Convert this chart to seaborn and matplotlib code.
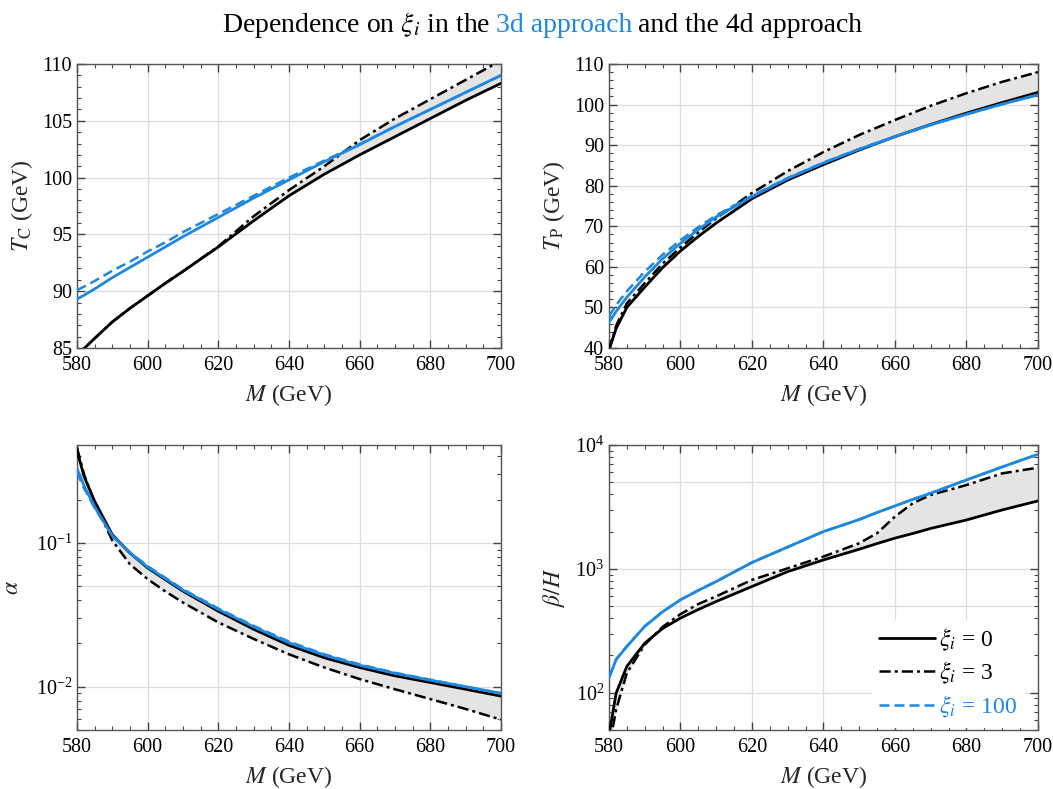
#!/usr/bin/env python3

import matplotlib

matplotlib.use("Agg")
import matplotlib.pylab as plt
import matplotlib.ticker as mticker
import seaborn as sns

sns.set_style("ticks")
plt.rcParams["font.family"] = ["Liberation Serif", "DejaVu Serif"]
plt.rcParams["mathtext.fontset"] = "stix"

BLUE = "#1e88e0"
DASHDOT = (0, (4.5, 1.6, 1.2, 1.6))

# Mass grid (GeV)
M = [580, 582, 585, 590, 595, 600, 605, 610, 620, 630, 640, 650, 660, 670, 680, 690, 700]
M_BETA = [580, 582, 585, 590, 595, 600, 605, 610, 620, 630, 640, 650, 655, 660,
          665, 670, 680, 690, 700]

# T_C (GeV)
tc_4d_xi0 = [84.4, 84.95, 85.85, 87.3, 88.5, 89.6, 90.7, 91.75, 93.9, 96.2, 98.4, 100.3,
             102.0, 103.6, 105.2, 106.8, 108.3]
tc_4d_xi3 = [84.4, 84.95, 85.85, 87.3, 88.5, 89.6, 90.7, 91.75, 93.95, 96.6, 98.9, 101.0,
             103.3, 105.2, 106.9, 108.6, 110.3]
tc_3d_xi0 = [89.3, 89.65, 90.2, 91.2, 92.1, 93.0, 93.9, 94.8, 96.5, 98.2, 99.8, 101.4,
             102.9, 104.5, 106.0, 107.5, 109.0]
tc_3d_xi100 = [90.1, 90.4, 90.9, 91.8, 92.6, 93.5, 94.3, 95.2, 96.8, 98.4, 100.0, 101.5,
               102.95, 104.5, 106.0, 107.5, 109.0]

# T_P (GeV)
tp_4d_xi0 = [39.5, 44.8, 50.0, 55.0, 59.8, 63.9, 67.5, 70.8, 76.8, 81.4, 85.2, 88.8,
             92.1, 95.1, 97.9, 100.5, 103.0]
tp_4d_xi3 = [39.5, 45.5, 51.0, 56.0, 60.8, 64.8, 68.5, 72.0, 78.2, 83.6, 88.3, 92.5,
             96.2, 99.7, 102.8, 105.6, 108.0]
tp_3d_xi0 = [46.3, 49.0, 52.5, 57.5, 62.0, 65.8, 69.2, 72.3, 77.3, 81.8, 85.6, 89.0,
             92.1, 95.0, 97.6, 100.1, 102.4]
tp_3d_xi100 = [47.8, 50.6, 54.0, 58.8, 63.0, 66.6, 69.8, 72.7, 77.5, 81.9, 85.7, 89.05,
               92.1, 95.0, 97.6, 100.1, 102.4]

# alpha
al_4d_xi0 = [0.44, 0.29, 0.195, 0.114, 0.085, 0.067, 0.0556, 0.0462, 0.0335, 0.0251,
             0.0194, 0.0159, 0.0136, 0.0119, 0.0107, 0.0096, 0.0086]
al_4d_xi3 = [0.46, 0.30, 0.19, 0.104, 0.071, 0.056, 0.046, 0.0385, 0.0280, 0.0215,
             0.0168, 0.0136, 0.0113, 0.0096, 0.0082, 0.0070, 0.0059]
al_3d_xi0 = [0.33, 0.25, 0.178, 0.112, 0.085, 0.068, 0.0565, 0.047, 0.0345, 0.0261,
             0.0202, 0.0166, 0.0141, 0.0124, 0.0111, 0.0100, 0.0090]
al_3d_xi100 = [0.31, 0.24, 0.175, 0.112, 0.086, 0.069, 0.0572, 0.0476, 0.0350, 0.0265,
               0.0206, 0.0168, 0.0143, 0.0125, 0.0112, 0.0100, 0.0090]

# beta / H
bh_4d_xi0 = [45, 99, 163, 251, 330, 400, 470, 545, 720, 950, 1180, 1440, 1600, 1770,
             1930, 2120, 2480, 2990, 3535]
bh_4d_xi3 = [35, 73, 144, 244, 340, 431, 520, 600, 815, 1010, 1257, 1610, 1940, 2640,
             3390, 3950, 4750, 5900, 6560]
bh_3d_xi0 = [131, 185, 236, 343, 450, 562, 670, 790, 1125, 1500, 2000, 2500, 2850, 3220,
             3640, 4080, 5220, 6650, 8410]
bh_3d_xi100 = [133, 186, 237, 344, 451, 563, 671, 791, 1126, 1501, 2001, 2501, 2851,
               3221, 3641, 4081, 5221, 6651, 8411]

legend_labels = [r"$\xi_i$ = 0", r"$\xi_i$ = 3", r"$\xi_i$ = 100"]


def style_axis(ax):
    ax.set_xlim(580, 700)
    ax.xaxis.set_major_locator(mticker.MultipleLocator(20))
    ax.xaxis.set_minor_locator(mticker.MultipleLocator(5))
    ax.tick_params(which="both", direction="in", top=True, right=True,
                   colors="#444444", labelcolor="black", labelsize=14.5)
    ax.tick_params(axis="x", which="major", pad=6)
    ax.tick_params(which="major", length=6, width=1)
    ax.tick_params(which="minor", length=3, width=0.8)
    for s in ax.spines.values():
        s.set_color("#555555")
        s.set_linewidth(1.0)
    ax.grid(True, which="major", color="#dcdcdc", lw=0.9)
    ax.set_axisbelow(True)
    ax.set_xlabel(r"$M$ (GeV)", fontsize=17, labelpad=5)


def draw_panel(ax, x, y0, y3, b0, b100, with_label=False):
    ax.fill_between(x, y0, y3, color="#e4e4e4", lw=0, zorder=1)
    sns.lineplot(x=x, y=y0, ax=ax, color="black", lw=2.0, zorder=3,
                 label=legend_labels[0] if with_label else None)
    sns.lineplot(x=x, y=y3, ax=ax, color="black", lw=1.8, linestyle=DASHDOT, zorder=3,
                 label=legend_labels[1] if with_label else None)
    sns.lineplot(x=x, y=b0, ax=ax, color=BLUE, lw=2.0, zorder=4)
    sns.lineplot(x=x, y=b100, ax=ax, color=BLUE, lw=1.8, linestyle=(0, (4, 2)), zorder=4,
                 label=legend_labels[2] if with_label else None)


fig = plt.figure(figsize=(10.53, 7.89), dpi=100)
ax_tc = fig.add_axes([0.0731, 0.5589, 0.4027, 0.3600])
ax_tp = fig.add_axes([0.5783, 0.5589, 0.4074, 0.3600])
ax_al = fig.add_axes([0.0731, 0.0748, 0.4027, 0.3612])
ax_bh = fig.add_axes([0.5783, 0.0748, 0.4074, 0.3612])

# T_C
draw_panel(ax_tc, M, tc_4d_xi0, tc_4d_xi3, tc_3d_xi0, tc_3d_xi100)
style_axis(ax_tc)
ax_tc.set_ylim(85, 110)
ax_tc.yaxis.set_major_locator(mticker.MultipleLocator(5))
ax_tc.yaxis.set_minor_locator(mticker.MultipleLocator(1))
ax_tc.set_ylabel(r"$T_{\mathrm{C}}$ (GeV)", fontsize=17, labelpad=5)

# T_P
draw_panel(ax_tp, M, tp_4d_xi0, tp_4d_xi3, tp_3d_xi0, tp_3d_xi100)
style_axis(ax_tp)
ax_tp.set_ylim(40, 110)
ax_tp.yaxis.set_major_locator(mticker.MultipleLocator(10))
ax_tp.yaxis.set_minor_locator(mticker.MultipleLocator(2))
ax_tp.set_ylabel(r"$T_{\mathrm{P}}$ (GeV)", fontsize=17, labelpad=5)

# alpha
draw_panel(ax_al, M, al_4d_xi0, al_4d_xi3, al_3d_xi0, al_3d_xi100)
ax_al.set_yscale("log")
style_axis(ax_al)
ax_al.set_ylim(0.005, 0.48)
for v in [0.05]:
    ax_al.axhline(v, color="#dcdcdc", lw=0.9, zorder=0)
ax_al.set_ylabel(r"$\alpha$", fontsize=17, labelpad=9)

# beta / H
draw_panel(ax_bh, M_BETA, bh_4d_xi0, bh_4d_xi3, bh_3d_xi0, bh_3d_xi100, with_label=True)
ax_bh.set_yscale("log")
style_axis(ax_bh)
ax_bh.set_ylim(50, 1e4)
for v in [500, 5000]:
    ax_bh.axhline(v, color="#dcdcdc", lw=0.9, zorder=0)
ax_bh.set_ylabel(r"$\beta/H$", fontsize=17, labelpad=6)

leg = ax_bh.legend(loc="lower right", bbox_to_anchor=(0.995, -0.03), frameon=True,
                   fancybox=False, edgecolor="white", framealpha=1.0, fontsize=17,
                   handlelength=2.4, handletextpad=0.15, borderpad=0.3, labelspacing=0.3,
                   labelcolor=["black", "black", BLUE])

# Title with coloured middle part
fig.canvas.draw()
renderer = fig.canvas.get_renderer()
parts = [("Dependence on $\\xi_i$ in the", "black"), ("3d approach", BLUE),
         ("and the 4d approach", "black")]
gap = 5.5
texts = []
for s, c in parts:
    texts.append(fig.text(0, 0.968, s, color=c, fontsize=20, ha="left", va="center"))
widths = [t.get_window_extent(renderer).width for t in texts]
total = sum(widths) + gap * (len(texts) - 1)
x0 = 542 - total / 2
for t, w in zip(texts, widths):
    t.set_x(x0 / fig.bbox.width)
    x0 += w + gap

plt.savefig("out.png", dpi=100)
